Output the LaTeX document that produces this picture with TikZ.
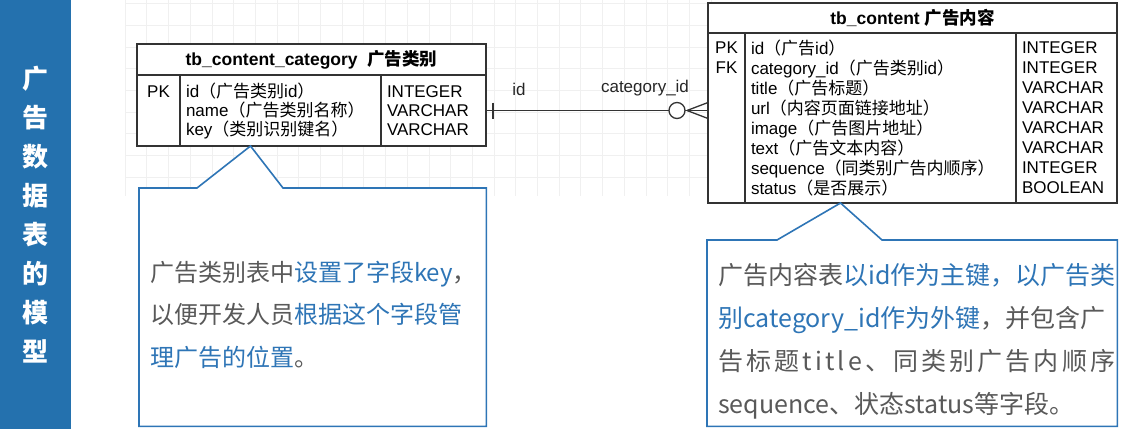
\documentclass[tikz,border=0pt]{standalone}
\usepackage{fontspec}
\setmainfont{Liberation Sans}
\newfontfamily\cjk{Noto Sans CJK SC}
\newcommand\zh[1]{{\cjk #1}}
\usepackage{tikz}
\usepackage{xcolor}
\definecolor{sidebar}{HTML}{2471AE}
\definecolor{noteblue}{HTML}{2E75B6}
\definecolor{notegray}{HTML}{595959}
\definecolor{tblline}{HTML}{333333}

\begin{document}
\begin{tikzpicture}[x=1pt,y=-1pt]
			\tikzstyle{gridline}=[draw=black!6,line width=.6pt]
			\tikzstyle{head}=[rectangle,draw=tblline,line width=1.3pt,minimum height=31,inner sep=0pt,outer sep=0pt,font=\fontsize{17.5}{19}\selectfont\bfseries,fill=white]
			\tikzstyle{cell}=[rectangle,draw=tblline,line width=1.3pt,inner xsep=6pt,inner ysep=0pt,outer sep=0pt,align=left,fill=white]
			\tikzstyle{lbl}=[font=\fontsize{17}{19}\selectfont,text=black!85,inner sep=1pt]
			\tikzstyle{rel}=[draw=tblline,line width=1.3pt]
			\tikzstyle{callout}=[draw=noteblue,line width=1.6pt,line join=miter]
			\tikzstyle{notetext}=[inner sep=0pt,text=notegray,anchor=base west]
			
			\useasboundingbox (0,0) rectangle (1127,429);
			
			\foreach \gx in {125,146.7,...,720} {\draw[gridline] (\gx,0) -- (\gx,196);}
			\foreach \gy in {3.5,25.2,...,196} {\draw[gridline] (125,\gy) -- (720,\gy);}
			
			\node [fill=sidebar,minimum width=71,minimum height=429,inner sep=0pt,anchor=north west] (side) at (0,0) {};
			\node [text=white,align=center,font=\cjk\bfseries\fontsize{26}{39}\selectfont] (title) at (side.center) {广\\告\\数\\据\\表\\的\\模\\型};
			
			% tb_content_category
			\node [head,minimum width=349,anchor=north west] (cathead) at (137,44) {tb\_content\_category \ \zh{广告类别}};
			\begin{scope}[font=\fontsize{17}{19}\selectfont]
			\node [cell,text width=31,align=center,minimum height=71,anchor=north west] (catpk) at (cathead.south west) {PK\\~\\~};
			\node [cell,text width=189,minimum height=71,anchor=north west] (catname) at (catpk.north east) {id\zh{（广告类别}id\zh{）}\\name\zh{（广告类别名称）}\\key\zh{（类别识别键名）}};
			\node [cell,text width=93,minimum height=71,anchor=north west] (cattype) at (catname.north east) {INTEGER\\VARCHAR\\VARCHAR};
			\end{scope}
			
			% tb_content
			\node [head,minimum width=409,minimum height=30,anchor=north west] (conhead) at (708,3) {tb\_content \zh{广告内容}};
			\begin{scope}[font=\fontsize{17}{20}\selectfont]
			\node [cell,text width=25,align=center,minimum height=170,anchor=north west] (conpk) at (conhead.south west) {PK\\FK\\~\\~\\~\\~\\~\\~};
			\node [cell,text width=259,minimum height=170,anchor=north west] (conname) at (conpk.north east) {id\zh{（广告}id\zh{）}\\category\_id\zh{（广告类别}id\zh{）}\\title\zh{（广告标题）}\\url\zh{（内容页面链接地址）}\\image\zh{（广告图片地址）}\\text\zh{（广告文本内容）}\\sequence\zh{（同类别广告内顺序）}\\status\zh{（是否展示）}};
			\node [cell,text width=89,minimum height=170,anchor=north west] (contype) at (conname.north east) {INTEGER\\INTEGER\\VARCHAR\\VARCHAR\\VARCHAR\\VARCHAR\\INTEGER\\BOOLEAN};
			\end{scope}
			
			% relation
			\coordinate (crow) at (cattype.east -| conpk.west);
			\draw [rel] (cattype.east) -- (crow);
			\draw [rel] ([xshift=7]cattype.east) ++(0,-8) -- ++(0,16);
			\draw [rel] ([xshift=-21]crow) -- ([yshift=-8]crow);
			\draw [rel] ([xshift=-21]crow) -- ([yshift=8]crow);
			\draw [rel,fill=white] ([xshift=-31]crow) circle (8);
			\node [lbl] (lid) at (519,89) {id};
			\node [lbl] (lcat) at (645,88) {category\_id};
			
			% notes
			\node [minimum width=347,minimum height=238,inner sep=0pt,anchor=north west] (noteA) at (139,188) {};
			\coordinate (tipA) at ([xshift=-30]catname.south);
			\draw [callout,fill=white] (noteA.north west) -- ([xshift=58]noteA.north west) -- (tipA) -- ([xshift=144]noteA.north west) -- (noteA.north east) -- (noteA.south east) -- (noteA.south west) -- cycle;
			\begin{scope}[font=\cjk\fontsize{24}{24}\selectfont]
			\node [notetext] (noteAa) at (150,281) {广告类别表中\textcolor{noteblue}{设置了字段key}，};
			\node [notetext] (noteAb) at (150,323) {以便开发人员\textcolor{noteblue}{根据这个字段管}};
			\node [notetext] (noteAc) at (150,366) {\textcolor{noteblue}{理广告的位置}。};
			\end{scope}
			
			\node [minimum width=410,minimum height=186,inner sep=0pt,anchor=north west] (noteB) at (707,240) {};
			\coordinate (tipB) at ([xshift=-40]conname.south);
			\draw [callout,fill=white] (noteB.north west) -- ([xshift=70]noteB.north west) -- (tipB) -- ([xshift=175]noteB.north west) -- (noteB.north east) -- (noteB.south east) -- (noteB.south west) -- cycle;
			\begin{scope}[font=\cjk\fontsize{25}{25}\selectfont]
			\node [notetext] (noteBa) at (718,284) {广告内容表\textcolor{noteblue}{以id作为主键，以广告类}};
			\node [notetext] (noteBb) at (718,327) {\textcolor{noteblue}{别category\_id作为外键}，并包含广};
			\node [notetext] (noteBc) at (718,370) {\makebox[397pt][s]{告\hfil 标\hfil 题\hfil t\hfil i\hfil t\hfil l\hfil e\hfil 、\hfil 同\hfil 类\hfil 别\hfil 广\hfil 告\hfil 内\hfil 顺\hfil 序}};
			\node [notetext] (noteBd) at (718,413) {sequence、状态status等字段。};
			\end{scope}
\end{tikzpicture}
\end{document}
